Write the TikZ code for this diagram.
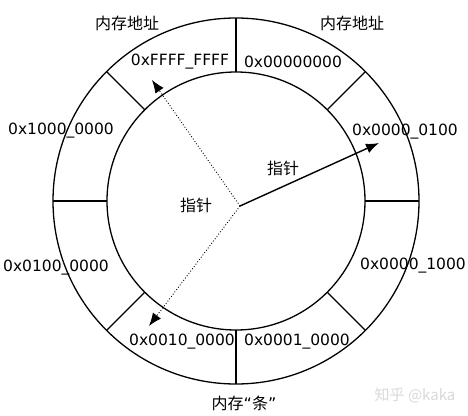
\documentclass[tikz,border=0pt]{standalone}
\usepackage{fontspec}
\usepackage{tikz}
\usepackage{xcolor}
\usetikzlibrary{arrows.meta,calc}
\setmainfont{DejaVu Sans}
\newfontfamily\cjk{Noto Sans CJK SC}

\begin{document}
\begin{tikzpicture}[
            x=1pt, y=-1pt,
            ring/.style={line width=1.3pt},
            addr/.style={inner sep=0pt, font=\fontsize{15.5}{18}\selectfont},
            label/.style={inner sep=0pt, font=\cjk\fontsize{16}{18}\selectfont},
            arrow/.style={-{Latex[length=13pt,width=10pt]}, line width=1.4pt},
            dotarrow/.style={-{Latex[length=13pt,width=10pt]}, line width=0.9pt, dotted}
        ]
            \useasboundingbox (0,0) rectangle (468,415);
            \fill[white] (0,0) rectangle (468,415);

            % Ring of the memory stick
            \coordinate (c) at (236,201);
            \draw[ring] (c) circle (183pt);
            \draw[ring] (c) circle (129pt);

            % Cells between the two circles
            \draw[ring] ($(c)+(0:129pt)$) -- ($(c)+(0:183pt)$);
            \draw[ring] ($(c)+(45:129pt)$) -- ($(c)+(45:183pt)$);
            \draw[ring] ($(c)+(90:129pt)$) -- ($(c)+(90:183pt)$);
            \draw[ring] ($(c)+(135:129pt)$) -- ($(c)+(135:183pt)$);
            \draw[ring] ($(c)+(180:129pt)$) -- ($(c)+(180:183pt)$);
            \draw[ring] ($(c)+(225:129pt)$) -- ($(c)+(225:183pt)$);
            \draw[ring] ($(c)+(270:129pt)$) -- ($(c)+(270:183pt)$);
            \draw[ring] ($(c)+(315:129pt)$) -- ($(c)+(315:183pt)$);

            % Addresses
            \node[addr] (ffff) at (180,62) {0xFFFF\_FFFF};
            \node[addr] (zero) at (293,62) {0x00000000};
            \node[addr] (a28) at (61,131) {0x1000\_0000};
            \node[addr] (a8) at (405,132) {0x0000\_0100};
            \node[addr] (a24) at (56,268) {0x0100\_0000};
            \node[addr] (a12) at (413,266) {0x0000\_1000};
            \node[addr] (a20) at (182,342) {0x0010\_0000};
            \node[addr] (a16) at (297,342) {0x0001\_0000};

            % Captions
            \node[label] (addrl) at (127,23) {内存地址};
            \node[label] (addrr) at (352,23) {内存地址};
            \node[label] (stick) at (244,403) {内存{\rmfamily“}条{\rmfamily”}};
            \node[label] (ptra) at (283,168) {指针};
            \node[label] (ptrb) at (196,205) {指针};
            \node[font=\cjk\fontsize{15}{18}\selectfont, text=black!15, inner sep=0pt] (mark) at (415,395) {知乎 @kaka};

            % Pointers
            \coordinate (ptr) at (240,206);
            \coordinate (tipa) at (379,143);
            \coordinate (tipb) at (152,80);
            \coordinate (tipc) at (149,326);
            \draw[arrow] (ptr) -- (tipa);
            \draw[dotarrow] (ptr) -- (tipb);
            \draw[dotarrow] (ptr) -- (tipc);

        \end{tikzpicture}
\end{document}
